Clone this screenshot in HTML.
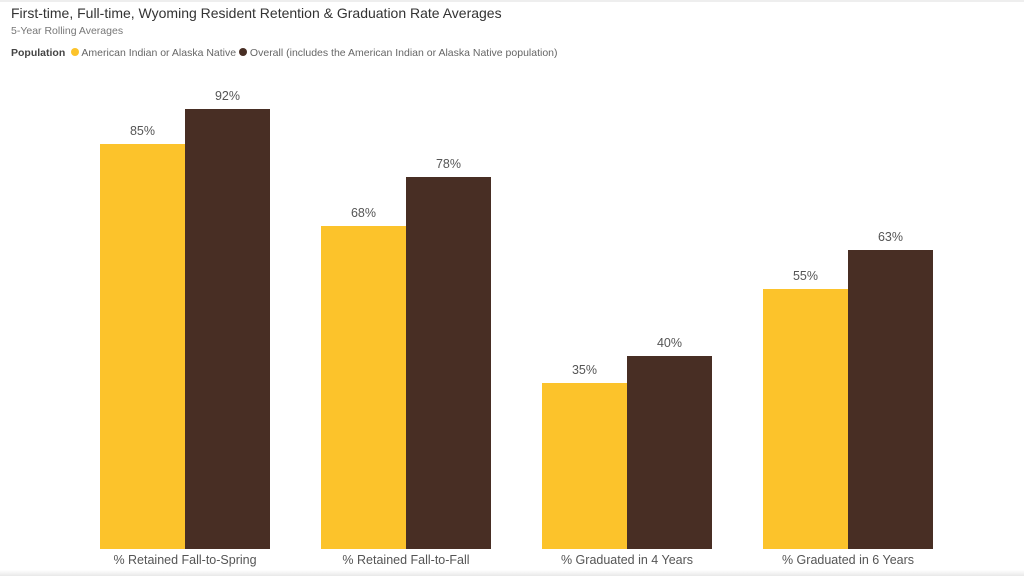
<!DOCTYPE html>
<html><head><style>
body{margin:0;width:1024px;height:576px;background:#fff;overflow:hidden;font-family:"Liberation Sans",sans-serif;position:relative}
.t{position:absolute;white-space:nowrap}
.b{position:absolute;bottom:27px;width:85px}
.y{background:#FCC32B}.d{background:#482E24}
.v{position:absolute;width:85px;text-align:center;font-size:12.5px;color:#555}
.c{position:absolute;top:553px;width:170px;text-align:center;font-size:12.5px;color:#555}
</style></head><body>
<div style="position:absolute;left:0;top:0;width:1024px;height:2px;background:#eee"></div>
<div class="t" style="left:11px;top:5px;font-size:14px;color:#333">First-time, Full-time, Wyoming Resident Retention &amp; Graduation Rate Averages</div>
<div class="t" style="left:11px;top:25px;font-size:10.5px;color:#777">5-Year Rolling Averages</div>
<div class="t" style="left:11px;top:47px;font-size:10.5px;color:#666"><b style="color:#444">Population</b> &nbsp;<span style="display:inline-block;width:8px;height:8px;border-radius:50%;background:#FCC32B"></span> American Indian or Alaska Native <span style="display:inline-block;width:8px;height:8px;border-radius:50%;background:#482E24"></span> Overall (includes the American Indian or Alaska Native population)</div>

<div class="b y" style="left:100px;top:144px"></div><div class="b d" style="left:185px;top:109px"></div>
<div class="v" style="left:100px;top:124px">85%</div><div class="v" style="left:185px;top:89px">92%</div>
<div class="b y" style="left:321px;top:226px"></div><div class="b d" style="left:406px;top:177px"></div>
<div class="v" style="left:321px;top:206px">68%</div><div class="v" style="left:406px;top:157px">78%</div>
<div class="b y" style="left:542px;top:383px"></div><div class="b d" style="left:627px;top:356px"></div>
<div class="v" style="left:542px;top:363px">35%</div><div class="v" style="left:627px;top:336px">40%</div>
<div class="b y" style="left:763px;top:289px"></div><div class="b d" style="left:848px;top:250px"></div>
<div class="v" style="left:763px;top:269px">55%</div><div class="v" style="left:848px;top:230px">63%</div>

<div class="c" style="left:100px">% Retained Fall-to-Spring</div>
<div class="c" style="left:321px">% Retained Fall-to-Fall</div>
<div class="c" style="left:542px">% Graduated in 4 Years</div>
<div class="c" style="left:763px">% Graduated in 6 Years</div>
<div style="position:absolute;left:0;top:570px;width:1024px;height:6px;background:linear-gradient(#fff,#e8e8e8)"></div>
</body></html>
